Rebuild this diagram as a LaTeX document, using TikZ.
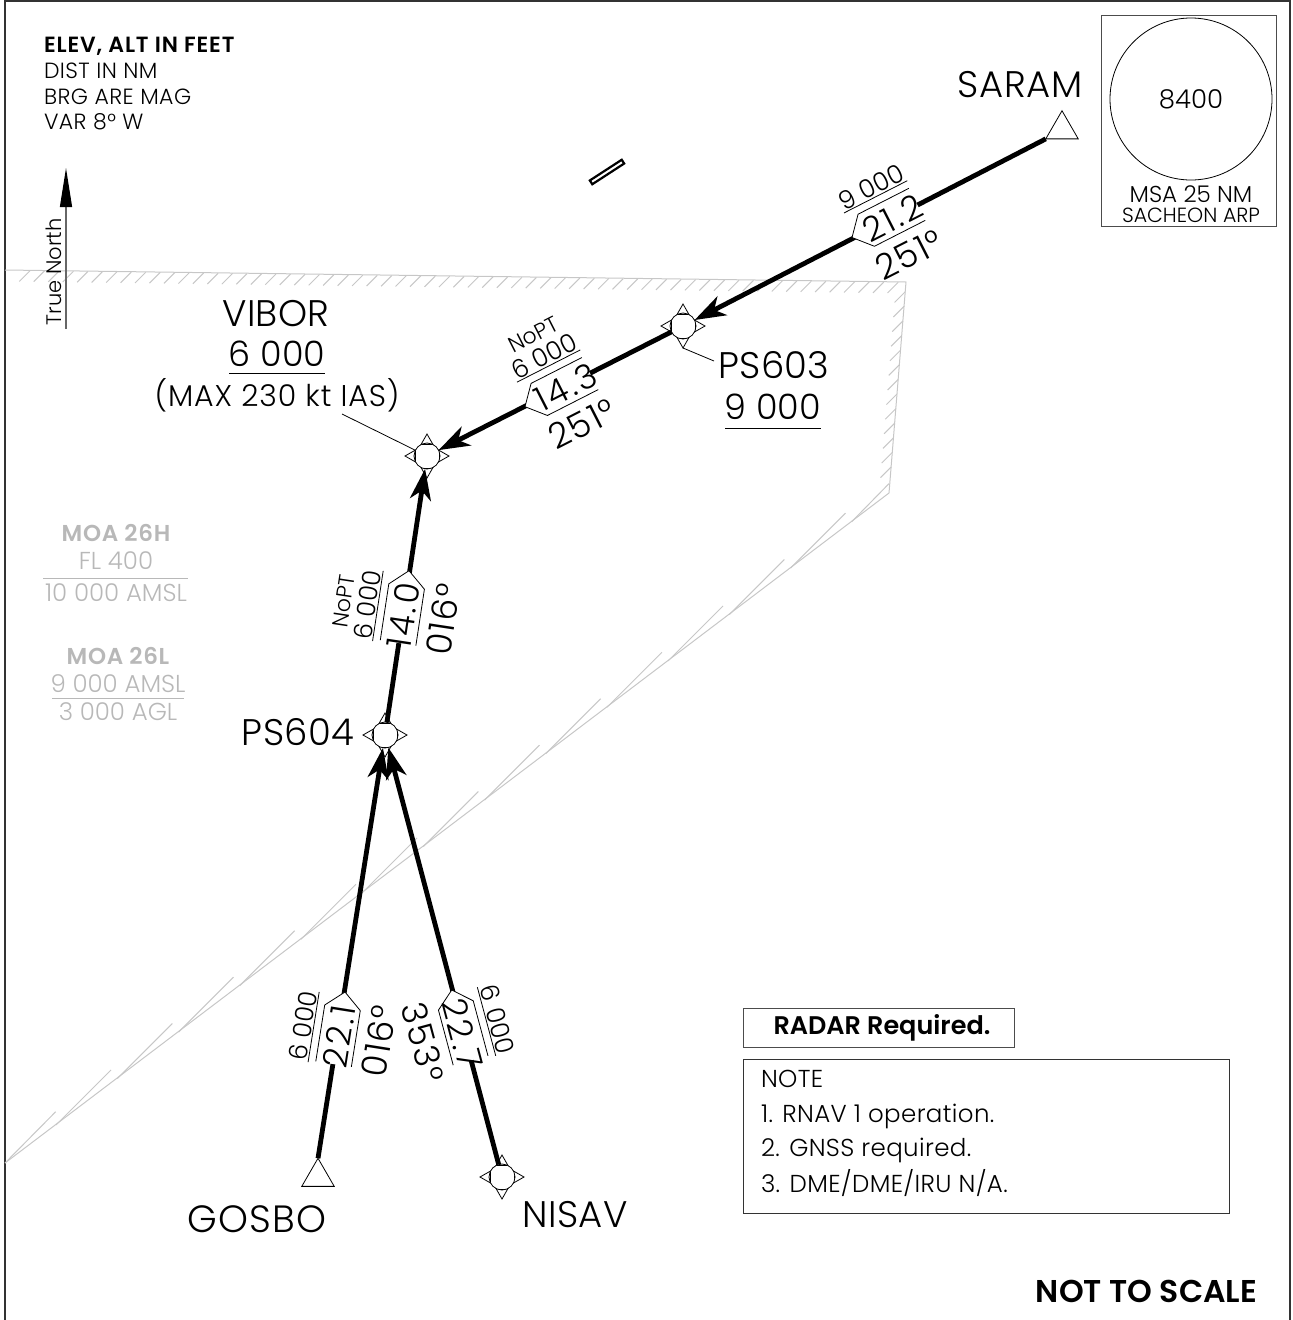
\documentclass[tikz,border=0pt]{standalone}
\usepackage{fontspec}
\setmainfont{Poppins}[UprightFont=* Light,BoldFont=* SemiBold]
\usetikzlibrary{arrows.meta}
\usetikzlibrary{positioning}
\usetikzlibrary{shapes}

\newcommand{\fs}[1]{\fontsize{#1}{#1}\selectfont}
\newcommand{\wide}[1]{\addfontfeature{LetterSpace=#1}}
\definecolor{moagray}{gray}{0.72}
\definecolor{hatchgray}{gray}{0.78}

\tikzset{
  every node/.style={inner sep=0pt, outer sep=0pt},
  thinline/.style={draw=black, line width=0.8pt},
  hatchline/.style={draw=hatchgray, line width=1pt},
  wptstar/.style={star, star points=4, star point ratio=1.95, minimum size=44pt, thinline, fill=white},
  wptcirc/.style={circle, minimum size=26pt, thinline, fill=white, path picture={
    \draw[thinline, shift={(path picture bounding box.center)}]
      (-5,12) -- (5,12) (-5,-12) -- (5,-12) (12,-5) -- (12,5) (-12,-5) -- (-12,5);}},
  fixtri/.style={regular polygon, regular polygon sides=3, minimum size=37.5pt, thinline},
  legline/.style={line width=4.8pt},
  legarrow/.style={legline, -{Stealth[length=31pt, width=21pt, inset=9pt]}},
  fixname/.style={font=\fs{37}\wide{1}},
  fixalt/.style={font=\fs{35}},
  noteline/.style={font=\fs{24.5}\wide{1.5}, anchor=base west},
  moatext/.style={font=\fs{24.5}, text=moagray},
  legdist/.style={font=\fs{34}\wide{8}},
  legalt/.style={font=\fs{25.5}, align=center, anchor=south},
  legbrg/.style={font=\fs{35}\wide{4}},
}

% name, tip, angle, side, distance, altitude, bearing
\newcommand{\legflag}[7]{
\begin{scope}[shift={(#2)}, rotate=#3, y=1pt, xscale=#4]
\draw[thinline, fill=white] (73,18) -- (16,18) -- (0,0) -- (16,-18) -- (73,-18);
\draw[thinline] (4,25.5) -- (75,25.5);
\node[legdist, rotate=#3] (#1-dist) at (45,-1) {#5};
\node[legalt, rotate=#3] (#1-alt) at (40,27) {#6};
\node[legbrg, rotate=#3] (#1-brg) at (43,-41) {#7};
\end{scope}
}
\newcommand{\wpt}[2]{
\node[wptstar] (#1-s) at (#2) {};
\node[wptcirc] (#1) at (#2) {};
}

\begin{document}
\begin{tikzpicture}[x=1pt, y=-1pt]
\useasboundingbox (0,0) rectangle (1293,1320);

% frame
\draw[black!80, line width=1.6pt] (5,1320) -- (5,0.8) -- (1290,0.8) -- (1290,1320);

% airspace boundary
\draw[hatchline] (5,270) -- (906,282) -- (889,493) -- (5,1163);
\foreach \i in {0,...,60}
  \draw[hatchline] ({30+14.47*\i},{270.4+0.01332*(25+14.47*\i)}) -- ++(-10.7,10.7);
\foreach \i in {0,...,12}
  \draw[hatchline] ({905.3-1.17*\i},{291.7+14.6*\i}) -- ++(-10.7,10.7);
\draw[hatchline] (851.7,521.7) -- (889,483.6);
\foreach \i in {1,...,13}
  \draw[hatchline] ({851.7-61.2*\i},{521.7+46.4*\i}) -- ++(55,-55);
\draw[hatchline] (5,1163) -- (55.7,1111.7);

% notes
\node[font=\bfseries\fs{22}\wide{4}, anchor=base west] (elev) at (44,52) {ELEV, ALT IN FEET};
\node[font=\fs{22}\wide{2}, anchor=base west] (dist) at (44,78) {DIST IN NM};
\node[font=\fs{22}\wide{2}, anchor=base west] (brg) at (44,104) {BRG ARE MAG};
\node[font=\fs{22}\wide{2}, anchor=base west] (var) at (44,129) {VAR 8° W};

% true north
\coordinate (northa) at (66,329);
\coordinate (northb) at (66,168);
\draw[black!60, line width=1.3pt, -{Triangle[length=39pt, width=12pt, color=black]}] (northa) -- (northb);
\node[font=\fs{21}, rotate=90] (northlbl) at (54,272) {True North};

% aerodrome
\node[draw, line width=2.2pt, rectangle, rotate=33, minimum width=38pt, minimum height=4.5pt] (rwy) at (607,172) {};

% msa
\node[draw=black!70, line width=1pt, rectangle, minimum width=175pt, minimum height=211pt] (msabox) at (1188.5,120.5) {};
\node[circle, thinline, minimum size=162pt] (msa) at (1191,99) {};
\node[font=\fs{26}] (msaval) at (1191,99) {8400};
\node[font=\fs{23}] (msa1) at (1191,194) {MSA 25 NM};
\node[font=\fs{20.5}] (msa2) at (1191,215) {SACHEON ARP};

% moa
\node[moatext, font=\bfseries\fs{23}\wide{3}] (moah) at (116,533) {MOA 26H};
\node[moatext] (moah1) at (116,561) {FL 400};
\draw[moagray, line width=1pt] (43,578) -- (188,578);
\node[moatext] (moah2) at (116,593) {10 000 AMSL};
\node[moatext, font=\bfseries\fs{23}\wide{3}] (moal) at (118,656) {MOA 26L};
\node[moatext] (moal1) at (118,684) {9 000 AMSL};
\draw[moagray, line width=1pt] (52,698) -- (184,698);
\node[moatext] (moal2) at (118,712) {3 000 AGL};

% fixes
\node[fixtri] (saram) at (1062,129.5) {};
\node[fixtri] (gosbo) at (318,1177) {};
\wpt{ps603}{683,326}
\wpt{vibor}{427,456}
\wpt{ps604}{385,735}
\wpt{nisav}{502,1177}

\node[fixname, font=\fs{37}\wide{2}] (saramlbl) at (1020,85) {SARAM};
\node[fixname, font=\fs{38}\wide{3}] (gosbolbl) at (257,1219) {GOSBO};
\node[fixname] (nisavlbl) at (575,1215) {NISAV};
\node[fixname] (ps604lbl) at (298,732) {PS604};
\node[fixname] (ps603lbl) at (774,365) {PS603};
\node[fixalt] (ps603alt) at (773,407) {9 000};
\draw[thinline] (725,428) -- (821,428);
\node[fixname] (viborlbl) at (276,314) {VIBOR};
\node[fixalt] (viboralt) at (277,354) {6 000};
\draw[thinline] (229,373) -- (325,373);
\node[font=\fs{30}\wide{3}] (viborspd) at (277,395) {(MAX 230 kt IAS)};

% leaders
\coordinate (viborlead) at (342,414);
\coordinate (ps603lead) at (714,361);
\draw[thinline] (viborlead) -- (vibor-s);
\draw[thinline] (ps603-s.south) -- (ps603lead);

% legs
\draw[legarrow] (saram.corner 2) -- (ps603);
\draw[legarrow] (ps603) -- (vibor);
\draw[legarrow] (ps604) -- (vibor);
\draw[legarrow] (gosbo.corner 1) -- (ps604);
\draw[legarrow] (nisav) -- (ps604);

\legflag{sp}{852,237.5}{27}{1}{21.2}{9 000}{251°}
\legflag{pv}{525,406.7}{27}{1}{14.3}{{\fs{22}NoPT}\\6 000}{251°}
\legflag{pp}{409,570.7}{81.4}{-1}{14.0}{{\fs{22}NoPT}\\6 000}{016°}
\legflag{gp}{345,992}{81}{-1}{22.1}{6 000}{016°}
\legflag{np}{451.7,990}{-75}{1}{22.7}{6 000}{353°}

% boxes
\node[draw=black!70, line width=1pt, rectangle, minimum width=271pt, minimum height=39pt] (radarbox) at (878.5,1027.5) {};
\node[font=\bfseries\fs{25.5}] (radar) at (882,1028) {RADAR Required.};
\node[draw=black!80, line width=1pt, rectangle, minimum width=486pt, minimum height=154pt] (notebox) at (986,1136) {};
\node[noteline] (note0) at (761,1087) {NOTE};
\node[noteline] (note1) at (761,1122) {1. RNAV 1 operation.};
\node[noteline] (note2) at (761,1156) {2. GNSS required.};
\node[noteline] (note3) at (761,1192) {3. DME/DME/IRU N/A.};
\node[font=\bfseries\fs{31.5}] (nts) at (1146.5,1291) {NOT TO SCALE};
\end{tikzpicture}
\end{document}
